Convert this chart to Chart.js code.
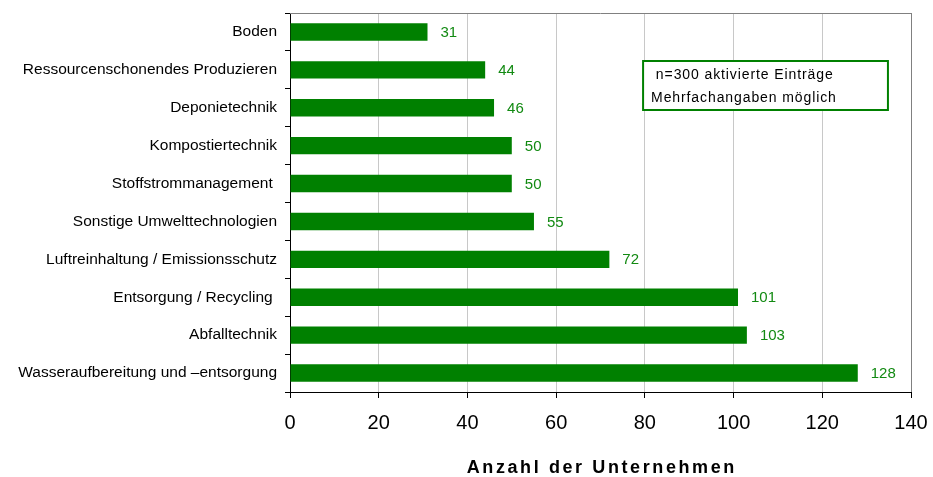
<!DOCTYPE html>
<html>
<head>
<meta charset="utf-8">
<script src="https://cdn.jsdelivr.net/npm/chart.js@4/dist/chart.umd.min.js"></script>
<style>
  html, body { margin: 0; padding: 0; background: #fff; }
  #wrap { width: 933px; height: 477px; }
</style>
</head>
<body>
<div id="wrap"><canvas id="chart"></canvas></div>
<script>
const categories = [
    'Boden',
    'Ressourcenschonendes Produzieren',
    'Deponietechnik',
    'Kompostiertechnik',
    'Stoffstrommanagement ',
    'Sonstige Umwelttechnologien',
    'Luftreinhaltung / Emissionsschutz',
    'Entsorgung / Recycling ',
    'Abfalltechnik',
    'Wasseraufbereitung und \u2013entsorgung'
];
const counts = [31, 44, 46, 50, 50, 55, 72, 101, 103, 128];
const xTicks = [0, 20, 40, 60, 80, 100, 120, 140];
const axisTitle = 'Anzahl der Unternehmen';
const noteLines = [' n=300 aktivierte Einträge', 'Mehrfachangaben möglich'];

const green = '#008000';
const fontFamily = 'Arial, "Liberation Sans", sans-serif';

// value labels at the end of each bar
const valueLabels = {
    id: 'valueLabels',
    afterDatasetsDraw(chart) {
        const ctx = chart.ctx;
        const meta = chart.getDatasetMeta(0);
        ctx.save();
        ctx.fillStyle = '#128a12';
        ctx.font = '15px ' + fontFamily;
        ctx.textAlign = 'left';
        ctx.textBaseline = 'middle';
        meta.data.forEach((bar, i) => {
            ctx.fillText(String(counts[i]), bar.x + 13, bar.y + 1);
        });
        ctx.restore();
    }
};

// top border, note box and spaced axis title
const extras = {
    id: 'extras',
    afterDraw(chart) {
        const ctx = chart.ctx;
        const area = chart.chartArea;
        const x = chart.scales.x;
        ctx.save();
        ctx.strokeStyle = '#808080';
        ctx.lineWidth = 1;
        ctx.beginPath();
        ctx.moveTo(area.left, area.top + 0.5);
        ctx.lineTo(area.right, area.top + 0.5);
        ctx.stroke();

        // note box
        const bx = x.getPixelForValue(79.6), bw = x.getPixelForValue(134.8) - bx;
        const by = 61, bh = 49;
        ctx.fillStyle = '#fff';
        ctx.fillRect(bx, by, bw, bh);
        ctx.strokeStyle = green;
        ctx.lineWidth = 2;
        ctx.strokeRect(bx, by, bw, bh);
        ctx.fillStyle = '#000';
        ctx.font = '14px ' + fontFamily;
        ctx.letterSpacing = '0.9px';
        ctx.textBaseline = 'middle';
        ctx.textAlign = 'left';
        ctx.fillText(noteLines[0], bx + 8, by + 14);
        ctx.fillText(noteLines[1], bx + 8, by + 37);

        // axis title
        ctx.font = 'bold 18px ' + fontFamily;
        ctx.letterSpacing = '2.6px';
        ctx.textAlign = 'center';
        ctx.fillText(axisTitle, (area.left + area.right) / 2 + 1.3, 468);
        ctx.restore();
    }
};

new Chart(document.getElementById('chart'), {
    type: 'bar',
    data: {
        labels: categories,
        datasets: [{
            data: counts,
            backgroundColor: green,
            borderWidth: 0,
            barPercentage: 0.92,
            categoryPercentage: 0.5
        }]
    },
    options: {
        indexAxis: 'y',
        responsive: true,
        maintainAspectRatio: false,
        animation: false,
        layout: { padding: { top: 13, right: 22, left: 0, bottom: 0 } },
        plugins: {
            legend: { display: false },
            tooltip: { enabled: false }
        },
        scales: {
            x: {
                min: 0,
                max: 140,
                afterBuildTicks: (scale) => { scale.ticks = xTicks.map(v => ({ value: v })); },
                afterFit: (scale) => {
                    scale.height = 85;
                    scale.paddingLeft = 0;
                    scale.paddingRight = 0;
                },
                ticks: {
                    color: '#000',
                    font: { family: fontFamily, size: 20 },
                    padding: 13
                },
                grid: {
                    color: (c) => c.tick && c.tick.value === 140 ? '#808080' : '#c8c8c8',
                    tickColor: '#000',
                    tickLength: 6
                },
                border: { color: '#000', width: 1 }
            },
            y: {
                afterFit: (scale) => {
                    scale.width = 290;
                    scale.paddingTop = 0;
                    scale.paddingBottom = 0;
                },
                ticks: {
                    color: '#000',
                    font: { family: fontFamily, size: 15.5 },
                    padding: 8
                },
                grid: {
                    offset: true,
                    drawOnChartArea: false,
                    tickColor: '#000',
                    tickLength: 5
                },
                border: { color: '#000', width: 1 }
            }
        }
    },
    plugins: [valueLabels, extras]
});
</script>
</body>
</html>
